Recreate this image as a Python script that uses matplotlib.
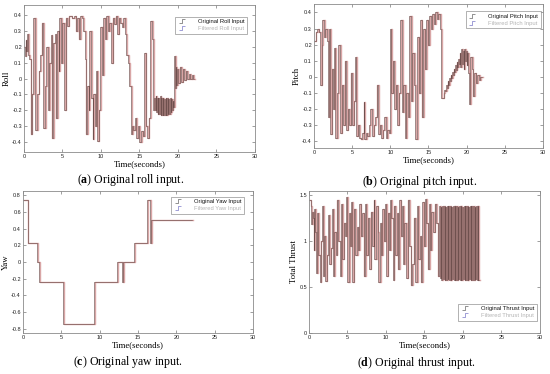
import numpy as np
import matplotlib
matplotlib.use("Agg")
import matplotlib.pyplot as plt
from matplotlib.lines import Line2D
from matplotlib.path import Path

plt.rcParams['axes.unicode_minus'] = False
plt.rcParams['mathtext.fontset'] = 'custom'
plt.rcParams['mathtext.rm'] = 'Liberation Serif'
plt.rcParams['mathtext.bf'] = 'Liberation Serif:bold'

# ---------------- data ----------------
# (a) roll: step changes, then a dense band, then a decaying tail
roll_t = [0.0, 0.1, 0.2, 0.3, 0.4, 0.5, 0.7, 0.85, 1.0, 1.2, 1.45, 1.7, 1.9, 2.1, 2.3,
          2.5, 2.7, 2.9, 3.1, 3.3, 3.5, 3.6, 3.8, 4.0, 4.1, 4.3, 4.5, 4.6, 4.8, 5.0,
          5.2, 5.4, 5.6, 5.8, 6.2, 6.5, 6.7, 6.9, 7.1, 7.3, 7.5, 7.7, 7.9, 8.0, 8.2,
          8.4, 8.5, 8.7, 8.9, 9.0, 9.2, 9.4, 9.5, 9.7, 9.9, 10.1, 10.3, 10.5, 10.7, 10.9,
          11.1, 11.3, 11.5, 11.7, 11.9, 12.1, 12.3, 12.5, 12.7, 12.9, 13.1, 13.3, 13.5, 13.7, 13.9,
          14.0, 14.2, 14.4, 14.6, 14.8, 15.0, 15.2, 15.4, 15.6, 15.8, 16.0, 16.2, 16.4, 16.6, 16.8]
roll_v = [0.20, 0.14, 0.24, 0.17, 0.28, 0.15, 0.12, -0.35, -0.10, 0.38, -0.32, -0.10, 0.05, 0.15, 0.35,
          -0.31, -0.05, 0.20, -0.20, 0.10, 0.27, -0.37, 0.22, 0.28, -0.25, 0.30, 0.05, 0.38, 0.10, 0.35,
          -0.20, 0.38, 0.33, 0.39, 0.38, 0.39, 0.30, 0.38, 0.25, 0.39, 0.38, 0.30, 0.12, -0.35, -0.05,
          -0.20, 0.30, -0.12, -0.38, -0.10, -0.30, 0.05, -0.39, -0.20, 0.32, 0.02, 0.38, 0.25, 0.39, 0.30,
          0.35, 0.10, 0.38, 0.34, 0.39, 0.28, 0.38, 0.35, 0.32, 0.38, 0.28, 0.15, 0.10, -0.05, -0.35,
          -0.30, -0.32, -0.25, -0.37, -0.30, -0.40, -0.33, -0.36, 0.16, -0.30, -0.37, -0.25, 0.36, 0.25, -0.20]
roll_band_span = (16.9, 19.4)
roll_band_hi = [-0.12, -0.11, -0.12, -0.12, -0.11, -0.12, -0.12, -0.13, -0.12, -0.12, -0.13, -0.12, -0.13, -0.14]
roll_band_lo = [-0.20, -0.21, -0.22, -0.22, -0.23, -0.23, -0.23, -0.23, -0.23, -0.22, -0.22, -0.21, -0.20, -0.18]
roll_tail_t = [19.5, 19.6, 19.7, 19.8, 19.9, 20.0, 20.2, 20.4, 20.6, 20.8, 21.0, 21.2, 21.4, 21.6, 21.8, 22.0]
roll_tail_v = [0.14, -0.06, 0.07, -0.04, 0.06, -0.03, 0.07, -0.02, 0.06, -0.01, 0.05, 0.0, 0.03, 0.0, 0.02, 0.0]

# (b) pitch
pitch_t = [0.0, 0.2, 0.4, 0.6, 0.8, 1.0, 1.1, 1.3, 1.5, 1.7, 1.8, 2.0, 2.1, 2.3, 2.5,
           2.6, 2.8, 3.0, 3.2, 3.4, 3.6, 3.8, 4.0, 4.2, 4.4, 4.6, 4.8, 5.0, 5.2, 5.4,
           5.5, 5.7, 5.9, 6.1, 6.3, 6.5, 6.6, 6.8, 7.0, 7.2, 7.4, 7.6, 7.8, 8.0, 8.2,
           8.4, 8.6, 8.8, 9.0, 9.2, 9.4, 9.6, 9.8, 10.0, 10.1, 10.3, 10.5, 10.7, 10.9, 11.1,
           11.3, 11.5, 11.7, 11.9, 12.1, 12.3, 12.5, 12.7, 12.9, 13.1, 13.3, 13.5, 13.7, 13.9, 14.1,
           14.3, 14.5, 14.7, 14.9, 15.1, 15.3, 15.5, 15.7, 15.9, 16.1, 16.3, 16.5, 16.7]
pitch_v = [0.22, 0.28, 0.30, 0.28, -0.05, 0.20, 0.35, 0.25, 0.30, 0.22, -0.25, 0.30, -0.36, 0.05, -0.20,
           0.18, -0.38, -0.10, 0.20, -0.35, -0.05, -0.30, 0.10, -0.33, -0.20, -0.30, 0.02, -0.30, -0.15, 0.12,
           -0.37, -0.30, -0.38, -0.39, -0.35, -0.16, -0.39, -0.35, -0.37, -0.30, -0.20, -0.37, -0.30, -0.25, -0.05,
           -0.36, -0.30, -0.38, -0.33, -0.25, -0.38, -0.33, -0.35, 0.30, -0.10, 0.10, -0.20, -0.05, -0.30, -0.10,
           0.35, -0.22, -0.05, -0.38, -0.10, -0.25, 0.38, -0.15, 0.15, -0.05, -0.39, 0.25, -0.10, 0.35, -0.25,
           0.30, 0.05, 0.35, 0.20, 0.38, 0.30, 0.39, 0.33, 0.40, 0.36, 0.39, 0.30, -0.13]
pitch_ramp_span = (16.9, 19.0)
pitch_ramp_v = [-0.13, -0.10, -0.08, -0.09, -0.05, -0.07, -0.03, -0.05, -0.01, -0.03, 0.01,
                -0.01, 0.03, 0.01, 0.05, 0.03, 0.07, 0.04, 0.09, 0.06, 0.11, 0.08]
pitch_tail_t = [19.1, 19.2, 19.3, 19.4, 19.5, 19.6, 19.7, 19.8, 19.9, 20.0, 20.1, 20.2, 20.3,
                20.5, 20.7, 20.8, 21.0, 21.2, 21.4, 21.6, 21.8, 22.0]
pitch_tail_v = [0.15, 0.06, 0.17, 0.08, 0.16, 0.05, 0.17, 0.10, 0.16, 0.07, 0.15, 0.02, -0.17,
                0.12, 0.05, -0.12, 0.02, -0.04, 0.01, -0.02, 0.0, 0.0]

# (c) yaw
yaw_t = [0.0, 0.6, 1.8, 2.1, 5.2, 9.3, 12.3, 12.95, 13.05, 14.5, 16.15, 16.6, 16.75, 22.0]
yaw_v = [0.75, 0.23, 0.0, -0.24, -0.74, -0.24, 0.0, -0.24, 0.0, 0.23, 0.75, 0.23, 0.50, 0.50]

# (d) thrust
thrust_t = [0.0, 0.2, 0.3, 0.4, 0.5, 0.6, 0.7, 0.8, 0.9, 1.1, 1.2, 1.4, 1.5, 1.7, 1.8,
            1.9, 2.1, 2.3, 2.5, 2.6, 2.8, 3.0, 3.1, 3.3, 3.5, 3.6, 3.8, 4.0, 4.2, 4.3,
            4.5, 4.7, 4.8, 5.0, 5.2, 5.3, 5.5, 5.6, 5.8, 6.0, 6.2, 6.4, 6.5, 6.7, 6.9,
            7.1, 7.3, 7.4, 7.6, 7.8, 8.0, 8.2, 8.4, 8.5, 8.7, 8.9, 9.0, 9.2, 9.4, 9.5,
            9.7, 9.9, 10.0, 10.2, 10.4, 10.5, 10.7, 10.9, 11.0, 11.2, 11.4, 11.5, 11.7, 11.9, 12.1,
            12.2, 12.4, 12.6, 12.8, 13.0, 13.2, 13.4, 13.6, 13.8, 14.0, 14.2, 14.4, 14.5, 14.7, 14.9,
            15.1, 15.2, 15.4, 15.6, 15.7, 15.9, 16.1, 16.3, 16.5, 16.7]
thrust_v = [1.45, 1.38, 1.18, 1.32, 1.25, 0.90, 1.35, 1.10, 0.65, 1.30, 0.85, 0.55, 1.00, 1.38, 0.62,
            1.05, 0.56, 0.85, 1.28, 0.75, 0.92, 1.35, 0.62, 1.10, 0.85, 1.45, 1.00, 0.62, 1.40, 0.80,
            1.20, 1.05, 1.48, 0.55, 1.30, 0.95, 1.42, 0.55, 1.35, 0.85, 1.15, 0.90, 1.40, 1.05, 1.30,
            0.62, 1.40, 0.85, 1.25, 0.70, 1.32, 0.95, 1.45, 0.80, 1.38, 1.10, 0.55, 1.20, 0.85, 1.35,
            1.00, 1.40, 0.62, 1.30, 0.90, 1.45, 1.25, 0.58, 1.38, 0.85, 1.30, 0.70, 1.45, 1.05, 1.38,
            0.75, 1.20, 0.60, 1.45, 0.95, 0.52, 0.75, 1.25, 0.55, 1.38, 0.80, 1.05, 0.55, 1.42, 0.95,
            1.46, 1.20, 0.70, 1.40, 0.90, 1.32, 1.10, 1.40, 1.20, 0.62]
thrust_band_span = (16.9, 22.0)
thrust_band_hi = [1.38, 1.37, 1.38, 1.38, 1.37, 1.38, 1.38, 1.38, 1.37, 1.38, 1.38, 1.38, 1.37,
                  1.38, 1.38, 1.37, 1.38, 1.38, 1.38, 1.37, 1.38, 1.38, 1.38, 1.37, 1.38, 1.38]
thrust_band_lo = [0.60, 0.58, 0.59, 0.58, 0.58, 0.59, 0.58, 0.58, 0.59, 0.58, 0.58, 0.58, 0.59,
                  0.58, 0.58, 0.59, 0.58, 0.58, 0.58, 0.59, 0.58, 0.58, 0.58, 0.59, 0.58, 0.58]

x_ticks = [0, 5, 10, 15, 20, 25, 30]
roll_ticks = [-0.4, -0.3, -0.2, -0.1, 0, 0.1, 0.2, 0.3, 0.4]
yaw_ticks = [-0.8, -0.6, -0.4, -0.2, 0, 0.2, 0.4, 0.6, 0.8]
thrust_ticks = [0, 0.5, 1, 1.5]

ORIG = '#6f504e'
FILT = '#d9a6a6'
LAG = 0.1


def band(span, hi, lo):
    # interleave the upper and lower values read along the band
    vals = []
    for h, l in zip(hi, lo):
        vals += [h, l]
    return list(np.linspace(span[0], span[1], len(vals))), vals


def step_marker():
    return Path([(-1, -0.6), (0, -0.6), (0, 0.6), (1, 0.6)],
                [Path.MOVETO, Path.LINETO, Path.LINETO, Path.LINETO])


def setup(ax, ylim, yticks, ylabel, legend_names, legend_loc, anchor):
    ax.set_xlim(0, 30)
    ax.set_ylim(*ylim)
    ax.set_xticks(x_ticks)
    ax.set_xticklabels([f"{v:g}" for v in x_ticks])
    ax.set_yticks(yticks)
    ax.set_yticklabels([f"{v:g}" for v in yticks])
    ax.tick_params(direction='in', length=2, width=0.4, labelsize=4, pad=1.5,
                   top=True, right=True, colors='#555555', labelcolor='#222222')
    for lbl in ax.get_xticklabels() + ax.get_yticklabels():
        lbl.set_family('Liberation Sans')
    for s in ax.spines.values():
        s.set_color('#8a8a8a')
        s.set_linewidth(0.6)
    ax.set_xlabel('Time(seconds)', family='Liberation Serif', fontsize=6.3, labelpad=1)
    ax.set_ylabel(ylabel, family='Liberation Serif', fontsize=6.3, labelpad=1)
    handles = [Line2D([], [], linestyle='None', marker=step_marker(), markersize=5,
                      markerfacecolor='none', markeredgecolor='#666666', markeredgewidth=0.5),
               Line2D([], [], linestyle='None', marker=step_marker(), markersize=5,
                      markerfacecolor='none', markeredgecolor='#7a78c8', markeredgewidth=0.5)]
    leg = ax.legend(handles, legend_names, loc=legend_loc, bbox_to_anchor=anchor,
                    frameon=True, fancybox=False, borderaxespad=0,
                    handlelength=1.4, handletextpad=2.0, borderpad=0.45, labelspacing=0.3,
                    prop={'family': 'Liberation Sans', 'size': 4.2})
    leg.get_frame().set_edgecolor('#777777')
    leg.get_frame().set_linewidth(0.5)
    leg.get_texts()[0].set_color('#111111')
    leg.get_texts()[1].set_color('#b5b5b5')


def draw(ax, t, v):
    t_end = t + [t[-1] + 0.05]
    v_end = v + [v[-1]]
    ax.step(np.array(t_end) + LAG, v_end, where='post', color=FILT, lw=1.0)
    ax.step(t_end, v_end, where='post', color=ORIG, lw=0.45)


fig = plt.figure(figsize=(5.5, 3.74), dpi=100)
ax_a = fig.add_axes([0.0436, 0.5936, 0.42, 0.393])
ax_b = fig.add_axes([0.571, 0.604, 0.416, 0.385])
ax_c = fig.add_axes([0.0418, 0.1096, 0.418, 0.38])
ax_d = fig.add_axes([0.5618, 0.1096, 0.42, 0.38])

# roll
bt, bv = band(roll_band_span, roll_band_hi, roll_band_lo)
draw(ax_a, roll_t + bt + roll_tail_t, roll_v + bv + roll_tail_v)
setup(ax_a, (-0.46, 0.46), roll_ticks, 'Roll',
      ['Original Roll Input', 'Filtered Roll Input'], 'upper right', (0.965, 0.92))

# pitch
rt = list(np.linspace(pitch_ramp_span[0], pitch_ramp_span[1], len(pitch_ramp_v)))
draw(ax_b, pitch_t + rt + pitch_tail_t, pitch_v + pitch_ramp_v + pitch_tail_v)
setup(ax_b, (-0.445, 0.452), roll_ticks, 'Pitch',
      ['Original Pitch Input', 'Filtered Pitch Input'], 'upper right', (0.99, 0.95))

# yaw
draw(ax_c, yaw_t, yaw_v)
setup(ax_c, (-0.85, 0.855), yaw_ticks, 'Yaw',
      ['Original Yaw Input', 'Filtered Yaw Input'], 'upper right', (0.96, 0.96))

# thrust
bt, bv = band(thrust_band_span, thrust_band_hi, thrust_band_lo)
draw(ax_d, thrust_t + bt, thrust_v + bv)
setup(ax_d, (0, 1.545), thrust_ticks, 'Total Thrust',
      ['Original Thrust Input', 'Filtered Thrust Input'], 'lower right', (0.985, 0.085))

# captions
cap = dict(family='Liberation Serif', fontsize=8.6, ha='center', va='center')
fig.text(131 / 550, 1 - 180 / 374, r'($\mathbf{a}$) Original roll input.', **cap)
fig.text(420 / 550, 1 - 182 / 374, r'($\mathbf{b}$) Original pitch input.', **cap)
fig.text(128 / 550, 1 - 362 / 374, r'($\mathbf{c}$) Original yaw input.', **cap)
fig.text(416 / 550, 1 - 363 / 374, r'($\mathbf{d}$) Original thrust input.', **cap)

fig.savefig('out.png', dpi=100)
